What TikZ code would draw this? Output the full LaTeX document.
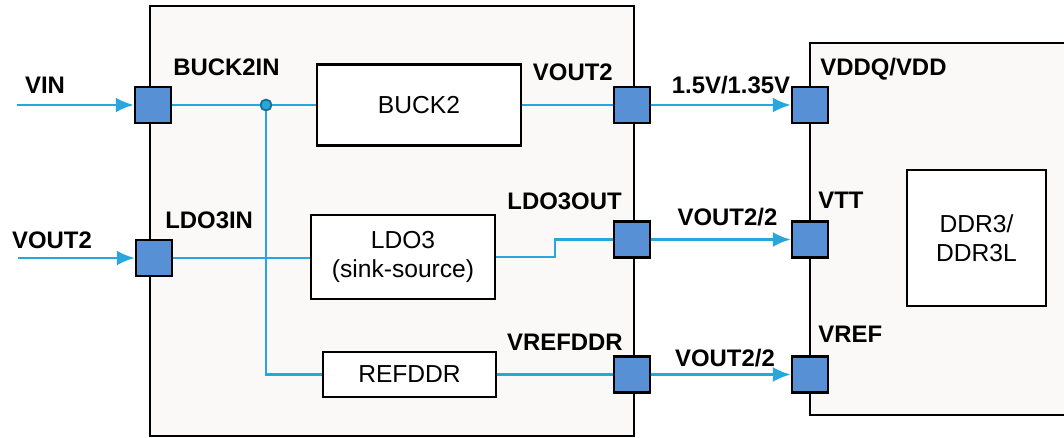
\documentclass[tikz,border=0pt]{standalone}
\usepackage{fontspec}
\setmainfont{Liberation Sans}
\usetikzlibrary{arrows.meta}
\definecolor{wireblue}{HTML}{2AA6DF}
\definecolor{pinblue}{HTML}{5890D6}
\definecolor{chipgray}{HTML}{FAF9F7}
\tikzset{
  pmpin/.style={rectangle, draw, line width=1.4pt, fill=pinblue,
                minimum size=0.72cm, inner sep=0pt},
  pmblock/.style={rectangle, draw, line width=1.2pt, fill=white, align=center,
                  font=\fontsize{14}{16.5}\selectfont},
  pmlabel/.style={font=\fontsize{13.6}{15}\selectfont\bfseries, inner sep=0pt},
  pmwire/.style={draw=wireblue, line width=1.5pt},
  pmfeed/.style={pmwire, -{Latex[length=0.36cm,width=0.3cm]}},
  pmdot/.style={circle, draw=wireblue!65!black, fill=wireblue, line width=1pt,
                minimum size=0.22cm, inner sep=0pt}
}

\begin{document}
\begin{tikzpicture}
  \useasboundingbox (0,0) rectangle (21.28,8.74);
  % chip outlines
  \draw[fill=chipgray, line width=0.9pt] (3.0,0.02) rectangle (12.68,8.62);
  \draw[fill=chipgray, line width=0.9pt]
    (21.6,7.88) -- (16.2,7.88) -- (16.2,0.44) -- (21.6,0.44);

  \node[pmblock, minimum width=2.78cm, minimum height=2.72cm] (ddr) at (19.53,3.98)
    {DDR3/\\DDR3L};
  \node[pmblock, minimum width=4.08cm, minimum height=1.62cm] (buck) at (8.38,6.64)
    {BUCK2};
  \node[pmblock, minimum width=3.68cm, minimum height=1.68cm] (ldo) at (8.06,3.6)
    {LDO3\\(sink-source)};
  \node[pmblock, minimum width=3.46cm, minimum height=0.9cm] (ref) at (8.19,1.25)
    {REFDDR};

  % pins
  \node[pmpin] (vinpin) at (3.06,6.64) {};
  \node[pmpin] (ldoinpin) at (3.08,3.58) {};
  \node[pmpin] (vout) at (12.64,6.64) {};
  \node[pmpin] (ldoout) at (12.64,3.95) {};
  \node[pmpin] (vrefout) at (12.64,1.25) {};
  \node[pmpin] (vddq) at (16.2,6.64) {};
  \node[pmpin] (vtt) at (16.2,3.95) {};
  \node[pmpin] (vrefin) at (16.2,1.25) {};

  \coordinate (vinsrc) at (0.34,6.64);
  \coordinate (ldosrc) at (0.36,3.58);
  \coordinate (ldobend) at (11.1,3.6);
  \node[pmdot] (tap) at (5.32,6.64) {};

  % wires
  \draw[pmfeed] (vinsrc) -- (vinpin);
  \draw[pmfeed] (ldosrc) -- (ldoinpin);
  \draw[pmwire] (vinpin) -- (tap) -- (buck);
  \draw[pmwire] (tap) |- (ref);
  \draw[pmwire] (ldoinpin) -- (ldoinpin -| ldo.west);
  \draw[pmwire] (ldo.east) -- (ldobend) |- (ldoout);
  \draw[pmwire] (buck) -- (vout);
  \draw[pmwire] (ref) -- (vrefout);
  \draw[pmfeed] (vout) -- (vddq);
  \draw[pmfeed] (ldoout) -- (vtt);
  \draw[pmfeed] (vrefout) -- (vrefin);

  % labels
  \node[pmlabel] (vinlbl) at (0.9,7.04) {VIN};
  \node[pmlabel] (ldosrclbl) at (1.04,3.94) {VOUT2};
  \node[pmlabel, anchor=west] (buckinlbl) at (3.46,7.39) {BUCK2IN};
  \node[pmlabel, anchor=west] (ldoinlbl) at (3.3,4.34) {LDO3IN};
  \node[pmlabel, anchor=east] (voutlbl) at (12.26,7.29) {VOUT2};
  \node[pmlabel, anchor=east] (ldooutlbl) at (12.44,4.72) {LDO3OUT};
  \node[pmlabel, anchor=east] (vrefoutlbl) at (12.46,1.9) {VREFDDR};
  \node[pmlabel] (railA) at (14.62,7.04) {1.5V/1.35V};
  \node[pmlabel] (railB) at (14.55,4.39) {VOUT2/2};
  \node[pmlabel] (railC) at (14.5,1.58) {VOUT2/2};
  \node[pmlabel, anchor=west] (vddqlbl) at (16.4,7.35) {VDDQ/VDD};
  \node[pmlabel, anchor=west] (vttlbl) at (16.36,4.74) {VTT};
  \node[pmlabel, anchor=west] (vreflbl) at (16.36,2.06) {VREF};
\end{tikzpicture}
\end{document}
